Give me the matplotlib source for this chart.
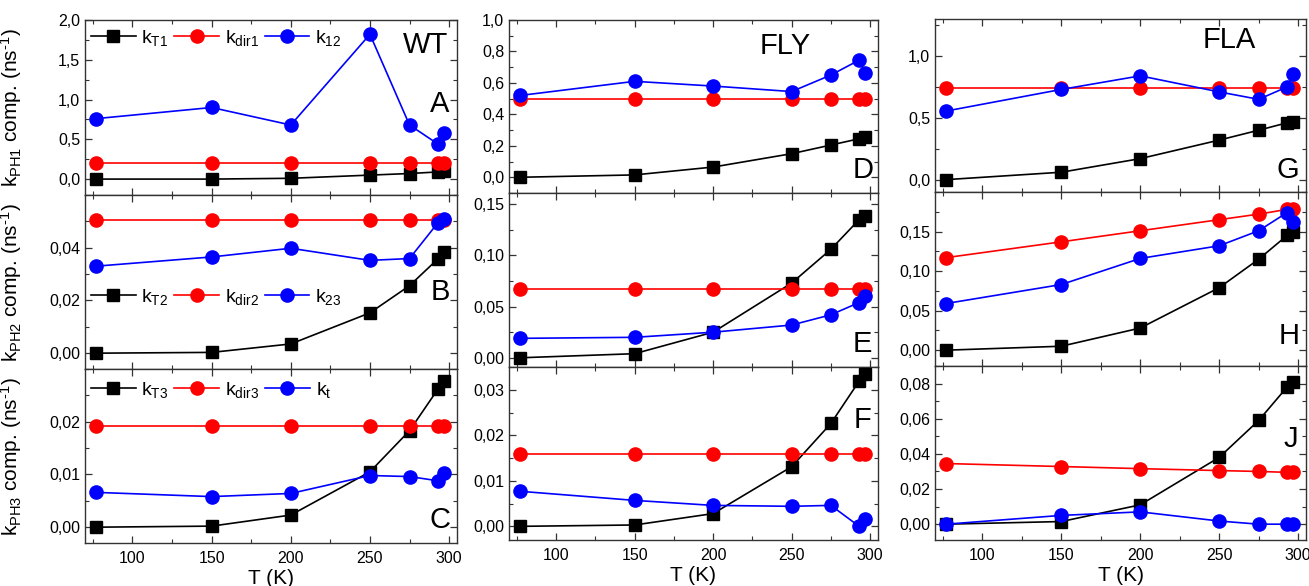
"""Rate-constant components vs temperature for WT, FLY and FLA (3x3 panels)."""
import matplotlib
matplotlib.use("Agg")
import matplotlib.pyplot as plt
from matplotlib.ticker import FixedLocator, MultipleLocator, FuncFormatter

plt.rcParams["font.family"] = ["Liberation Sans", "DejaVu Sans"]
plt.rcParams["mathtext.default"] = "regular"

T_K = [77, 150, 200, 250, 275, 293, 297]

# WT
KT1_WT = [0.0, 0.0, 0.01, 0.05, 0.07, 0.09, 0.10]
KDIR1_WT = [0.2, 0.2, 0.2, 0.2, 0.2, 0.2, 0.2]
K12_WT = [0.76, 0.90, 0.68, 1.82, 0.68, 0.44, 0.58]
KT2_WT = [0.0, 0.0003, 0.0035, 0.0153, 0.0256, 0.0358, 0.0382]
KDIR2_WT = [0.0504, 0.0504, 0.0504, 0.0504, 0.0504, 0.0504, 0.0504]
K23_WT = [0.0330, 0.0365, 0.0398, 0.0352, 0.0359, 0.0495, 0.0508]
KT3_WT = [0.0, 0.0002, 0.0023, 0.0105, 0.0183, 0.0262, 0.0278]
KDIR3_WT = [0.0192, 0.0192, 0.0192, 0.0192, 0.0192, 0.0192, 0.0192]
KTT_WT = [0.0066, 0.0058, 0.0064, 0.0098, 0.0096, 0.0088, 0.0103]

# FLY
KT1_FLY = [0.0, 0.015, 0.065, 0.15, 0.205, 0.245, 0.255]
KDIR1_FLY = [0.5, 0.5, 0.5, 0.5, 0.5, 0.5, 0.5]
K12_FLY = [0.52, 0.61, 0.58, 0.545, 0.65, 0.745, 0.665]
KT2_FLY = [0.0, 0.004, 0.025, 0.073, 0.106, 0.135, 0.139]
KDIR2_FLY = [0.067, 0.067, 0.067, 0.067, 0.067, 0.067, 0.067]
K23_FLY = [0.019, 0.020, 0.025, 0.032, 0.042, 0.054, 0.060]
KT3_FLY = [0.0, 0.0003, 0.0028, 0.0131, 0.0226, 0.0319, 0.0335]
KDIR3_FLY = [0.0158, 0.0158, 0.0158, 0.0158, 0.0158, 0.0158, 0.0158]
KTT_FLY = [0.0077, 0.0057, 0.0046, 0.0044, 0.0046, 0.0, 0.0016]

# FLA
KT1_FLA = [0.0, 0.06, 0.17, 0.32, 0.40, 0.46, 0.47]
KDIR1_FLA = [0.74, 0.74, 0.74, 0.74, 0.74, 0.74, 0.74]
K12_FLA = [0.555, 0.73, 0.84, 0.71, 0.65, 0.75, 0.855]
KT2_FLA = [0.0, 0.005, 0.028, 0.079, 0.115, 0.145, 0.150]
KDIR2_FLA = [0.117, 0.137, 0.151, 0.165, 0.172, 0.178, 0.179]
K23_FLA = [0.059, 0.083, 0.116, 0.132, 0.151, 0.174, 0.162]
KT3_FLA = [0.0, 0.0015, 0.011, 0.038, 0.059, 0.078, 0.081]
KDIR3_FLA = [0.0345, 0.0328, 0.0316, 0.0305, 0.0300, 0.0295, 0.0295]
KTT_FLA = [0.0, 0.005, 0.007, 0.0018, 0.0, 0.0, 0.0]

LEGEND_LABELS = [
    ["k$_{T1}$", "k$_{dir1}$", "k$_{12}$"],
    ["k$_{T2}$", "k$_{dir2}$", "k$_{23}$"],
    ["k$_{T3}$", "k$_{dir3}$", "k$_{t}$"],
]
YLABELS = [
    "k$_{PH1}$ comp. (ns$^{\u2010}$$^{1}$)",
    "k$_{PH2}$ comp. (ns$^{\u2010}$$^{1}$)",
    "k$_{PH3}$ comp. (ns$^{\u2010}$$^{1}$)",
]
SAMPLES = ["WT", "FLY", "FLA"]
LETTERS = [["A", "B", "C"], ["D", "E", "F"], ["G", "H", "J"]]

DATA = {
    (0, 0): (KT1_WT, KDIR1_WT, K12_WT),
    (0, 1): (KT2_WT, KDIR2_WT, K23_WT),
    (0, 2): (KT3_WT, KDIR3_WT, KTT_WT),
    (1, 0): (KT1_FLY, KDIR1_FLY, K12_FLY),
    (1, 1): (KT2_FLY, KDIR2_FLY, K23_FLY),
    (1, 2): (KT3_FLY, KDIR3_FLY, KTT_FLY),
    (2, 0): (KT1_FLA, KDIR1_FLA, K12_FLA),
    (2, 1): (KT2_FLA, KDIR2_FLA, K23_FLA),
    (2, 2): (KT3_FLA, KDIR3_FLA, KTT_FLA),
}

# (ylim, major ticks, minor step, decimals)
YAXES = {
    (0, 0): ((-0.2, 2.0), [0, 0.5, 1.0, 1.5, 2.0], 0.25, 1),
    (0, 1): ((-0.006, 0.060), [0, 0.02, 0.04], 0.01, 2),
    (0, 2): ((-0.003, 0.030), [0, 0.01, 0.02], 0.005, 2),
    (1, 0): ((-0.1, 1.0), [0, 0.2, 0.4, 0.6, 0.8, 1.0], 0.1, 1),
    (1, 1): ((-0.009, 0.161), [0, 0.05, 0.10, 0.15], 0.025, 2),
    (1, 2): ((-0.003, 0.035), [0, 0.01, 0.02, 0.03], 0.005, 2),
    (2, 0): ((-0.1, 1.3), [0, 0.5, 1.0], 0.25, 1),
    (2, 1): ((-0.02, 0.20), [0, 0.05, 0.10, 0.15], 0.025, 2),
    (2, 2): ((-0.009, 0.090), [0, 0.02, 0.04, 0.06, 0.08], 0.01, 2),
}

# letter label positions in axes fraction
LETTER_POS = {
    (0, 0): (0.954, 0.52), (0, 1): (0.954, 0.443), (0, 2): (0.954, 0.132),
    (1, 0): (0.959, 0.133), (1, 1): (0.959, 0.132), (1, 2): (0.959, 0.694),
    (2, 0): (0.951, 0.127), (2, 1): (0.955, 0.172), (2, 2): (0.958, 0.58),
}
SAMPLE_POS = [(0.914, 0.857), (0.748, 0.85), (0.792, 0.879)]
LEGEND_Y = [0.897, 0.414, 0.879]

W, H = 1309, 586
COL_X = [(85, 457), (509, 878), (935, 1306)]
COL_ROWS = [
    [(20, 195), (195, 369), (369, 543)],
    [(20, 193), (193, 367), (367, 540)],
    [(19, 192), (192, 366), (366, 540)],
]
COLORS = ["black", "red", "blue"]
MARKERS = ["s", "o", "o"]
MSIZES = [8.0, 9.5, 9.5]
SPINE = "#333333"


def comma_fmt(dec):
    return FuncFormatter(lambda v, p: f"{v:.{dec}f}".replace(".", ","))


def main():
    fig = plt.figure(figsize=(W / 100, H / 100), dpi=100)

    for c in range(3):
        x0, x1 = COL_X[c]
        for r in range(3):
            y0, y1 = COL_ROWS[c][r]
            ax = fig.add_axes([x0 / W, 1 - y1 / H, (x1 - x0) / W, (y1 - y0) / H])

            handles = []
            for i, ys in enumerate(DATA[(c, r)]):
                h, = ax.plot(T_K, ys, color=COLORS[i], marker=MARKERS[i],
                             markersize=MSIZES[i], markeredgecolor=COLORS[i],
                             linewidth=1.2, zorder=3 + i)
                handles.append(h)

            ylim, majors, minor, dec = YAXES[(c, r)]
            ax.set_xlim(70, 305)
            ax.set_ylim(*ylim)
            ax.xaxis.set_major_locator(MultipleLocator(50))
            ax.xaxis.set_minor_locator(MultipleLocator(25))
            ax.yaxis.set_major_locator(FixedLocator(majors))
            ax.yaxis.set_minor_locator(MultipleLocator(minor))
            ax.yaxis.set_major_formatter(comma_fmt(dec))

            ax.tick_params(which="both", direction="in", top=True, right=True,
                           color=SPINE, labelsize=11.5)
            ax.tick_params(which="major", length=5, width=0.9)
            ax.tick_params(which="minor", length=3, width=0.8)
            ax.tick_params(axis="x", labelbottom=(r == 2), pad=6)
            for s in ax.spines.values():
                s.set_color(SPINE)
                s.set_linewidth(1.0)

            if r == 2:
                ax.set_xlabel("T (K)", fontsize=15, labelpad=2)
            if c == 0:
                ax.set_ylabel(YLABELS[r], fontsize=15)
                ax.yaxis.set_label_coords(-0.165, 0.5)
                ax.legend(handles, LEGEND_LABELS[r], loc="center left",
                          bbox_to_anchor=(0.0, LEGEND_Y[r]), ncol=3,
                          frameon=False, fontsize=14, handlelength=2.3,
                          handletextpad=0.3, columnspacing=0.3,
                          borderaxespad=0.2, borderpad=0.1)
            if r == 0:
                sx, sy = SAMPLE_POS[c]
                ax.text(sx, sy, SAMPLES[c], transform=ax.transAxes,
                        fontsize=21, ha="center", va="center")
            lx, ly = LETTER_POS[(c, r)]
            ax.text(lx, ly, LETTERS[c][r], transform=ax.transAxes,
                    fontsize=21, ha="center", va="center")

    fig.savefig("out.png", dpi=100)
    plt.close(fig)


if __name__ == "__main__":
    main()
